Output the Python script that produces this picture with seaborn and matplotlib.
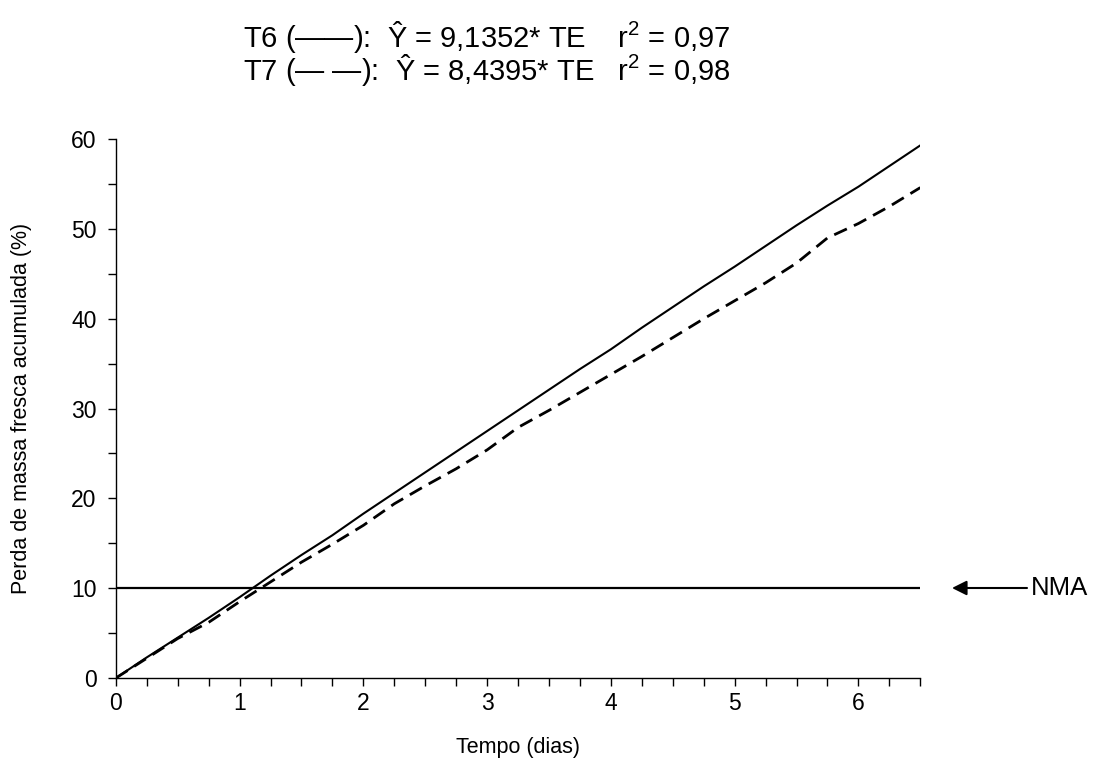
import pandas as pd
import matplotlib
matplotlib.use("Agg")
from matplotlib import pyplot as plt
from matplotlib.ticker import MultipleLocator
import seaborn as sns

#======== Data ========#
tempo = [0, 0.25, 0.5, 0.75, 1.0, 1.25, 1.5, 1.75, 2.0, 2.25, 2.5, 2.75, 3.0,
         3.25, 3.5, 3.75, 4.0, 4.25, 4.5, 4.75, 5.0, 5.25, 5.5, 5.75, 6.0,
         6.25, 6.5]
t6 = [0, 2.3, 4.5, 6.7, 9.0, 11.4, 13.7, 15.9, 18.3, 20.6, 22.9, 25.2, 27.5,
      29.8, 32.1, 34.4, 36.6, 39.0, 41.3, 43.6, 45.8, 48.1, 50.4, 52.6, 54.7,
      57.0, 59.3]
t7 = [0, 2.2, 4.4, 6.2, 8.5, 10.7, 12.9, 14.9, 17.0, 19.4, 21.4, 23.3, 25.4,
      27.9, 29.8, 31.8, 33.8, 35.8, 37.9, 40.0, 42.0, 44.0, 46.2, 49.0, 50.6,
      52.5, 54.6]
nma = 10

title_t6 = "T6 (——):  Ŷ = 9,1352* TE    r$^2$ = 0,97"
title_t7 = "T7 (— —):  Ŷ = 8,4395* TE   r$^2$ = 0,98"

df = pd.DataFrame({"tempo": tempo, "T6": t6, "T7": t7})

sns.set_style("ticks")
plt.rcParams['font.family'] = ['Liberation Sans', 'DejaVu Sans']
plt.rcParams['mathtext.fontset'] = 'custom'
plt.rcParams['mathtext.rm'] = 'Liberation Sans'
plt.rcParams['mathtext.it'] = 'Liberation Sans'
for k in ['text.color', 'axes.labelcolor', 'xtick.color', 'ytick.color']:
    plt.rcParams[k] = 'black'

fig = plt.figure(figsize=(10.93, 7.58), dpi=100)
ax = fig.add_axes([0.106, 0.1055, 0.736, 0.711])

sns.lineplot(x="tempo", y="T6", data=df, color='black', linewidth=1.5, ax=ax)
sns.lineplot(x="tempo", y="T7", data=df, color='black', linewidth=2.0,
             linestyle=(0, (5, 2.8)), ax=ax)
ax.axhline(nma, color='black', linewidth=1.6)

ax.set_xlim(0, 6.5)
ax.set_ylim(0, 60)
ax.xaxis.set_major_locator(MultipleLocator(1))
ax.xaxis.set_minor_locator(MultipleLocator(0.25))
ax.yaxis.set_major_locator(MultipleLocator(10))
ax.yaxis.set_minor_locator(MultipleLocator(5))
ax.tick_params(which='both', direction='out', length=6, width=1, color='black',
               labelcolor='black', labelsize=16.5, pad=8)
ax.tick_params(axis='x', pad=4)
ax.set_xlabel('Tempo (dias)', fontsize=15.5, labelpad=16)
ax.set_ylabel('Perda de massa fresca acumulada (%)', fontsize=15.5, labelpad=28)
for s in ['top', 'right']:
    ax.spines[s].set_visible(False)
for s in ['left', 'bottom']:
    ax.spines[s].set_color('black')
    ax.spines[s].set_linewidth(1)

# equations above the plot
fig.text(0.222, 0.951, title_t6, fontsize=21, va='center', ha='left')
fig.text(0.222, 0.907, title_t7, fontsize=21, va='center', ha='left')

# NMA arrow
y_nma = 1 - 588 / 758
ax.annotate('', xy=(952 / 1093, y_nma), xytext=(1027 / 1093, y_nma),
            xycoords='figure fraction', textcoords='figure fraction',
            arrowprops=dict(arrowstyle='-|>', color='black', lw=1.5,
                            mutation_scale=22, shrinkA=0, shrinkB=0))
fig.text(1031 / 1093, y_nma, 'NMA', fontsize=18.5, va='center', ha='left')

plt.savefig('out.png', dpi=100)
